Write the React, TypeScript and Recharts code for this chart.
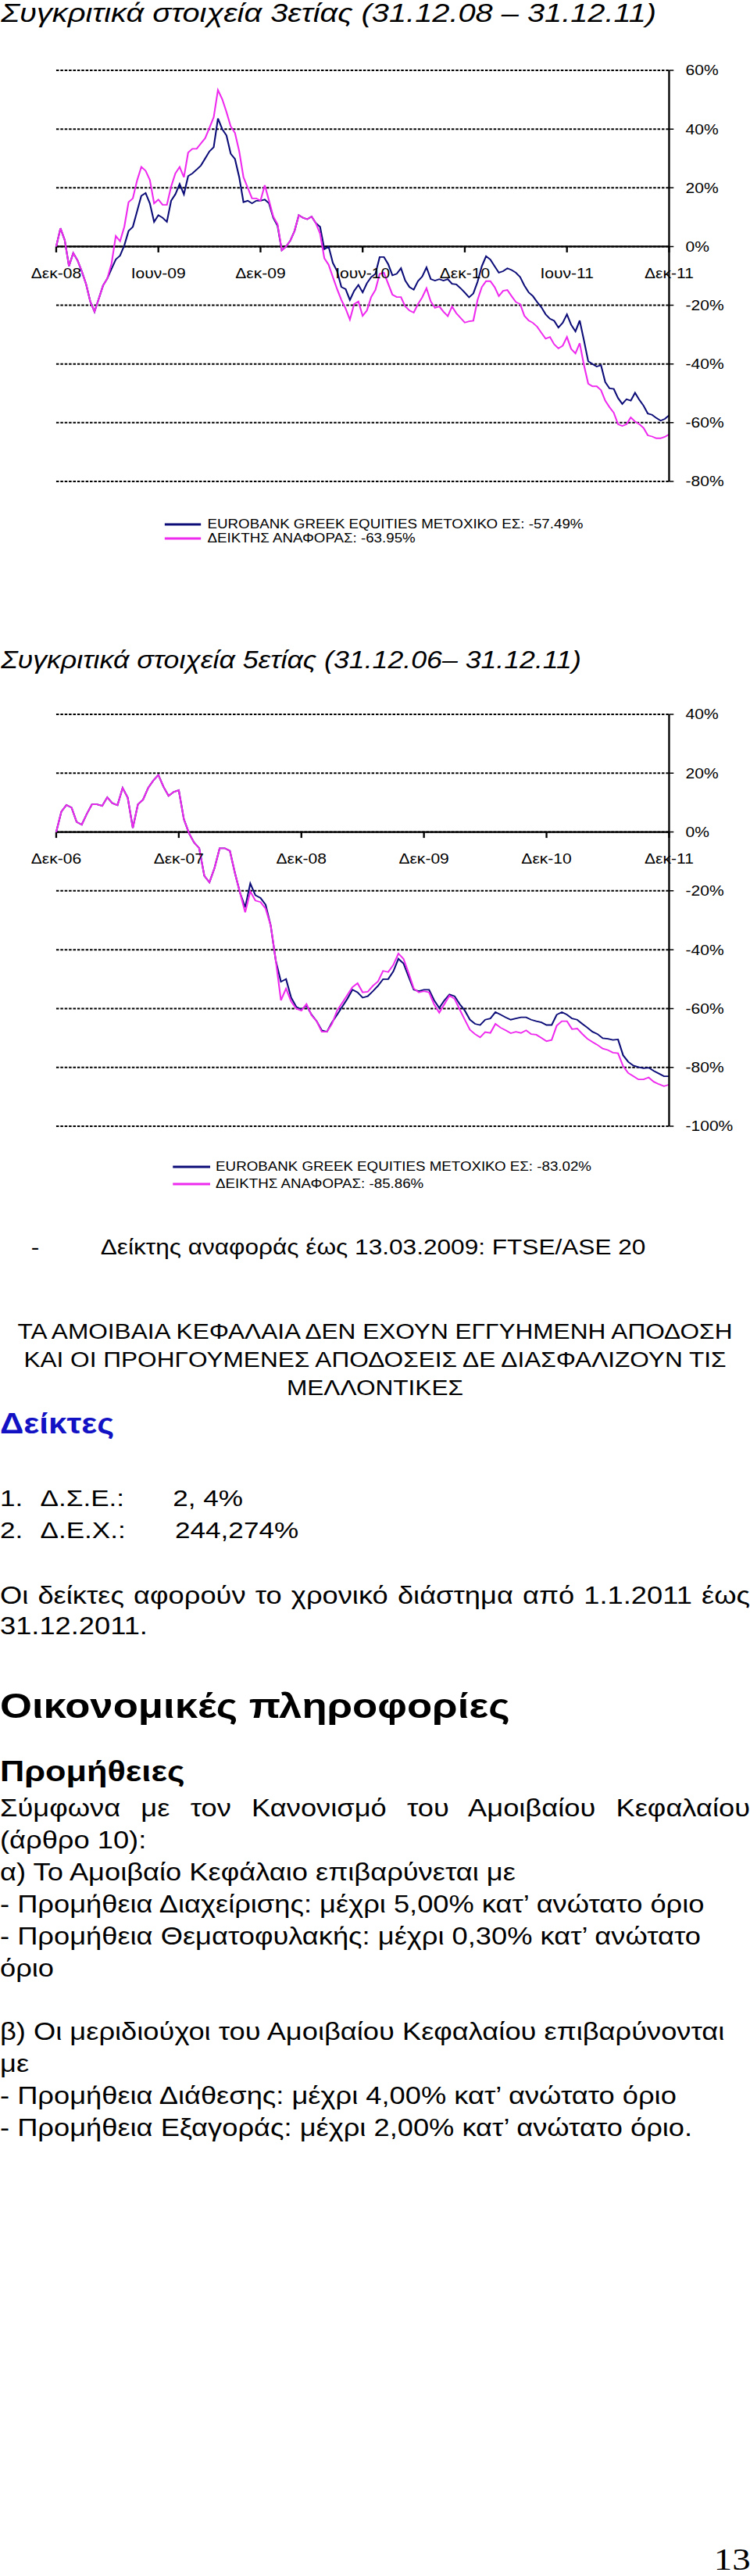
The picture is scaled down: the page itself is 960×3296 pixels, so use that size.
import React from 'react';
import { LineChart, Line, XAxis, YAxis, CartesianGrid, ReferenceLine, Legend } from 'recharts';

// ---------- data: 3-year chart (31.12.08 - 31.12.11), one value every quarter month ----------
const STEP3 = 0.25;
const idx3: number[] = [
  0, 6.2, 2.2, -6.7, -2.2, -4.7, -8.4, -12.7, -18.7, -22.2,
  -17.8, -13.3, -10.9, -5.8, 3.6, 1.8, 6.7, 15.1, 16.4, 22.5,
  27.1, 25.8, 22.7, 14.7, 16.0, 14.2, 14.2, 20.4, 24.9, 27.1,
  23.6, 32.0, 33.3, 33.3, 35.1, 36.9, 40.4, 44.0, 53.3, 50.2,
  45.8, 40.9, 38.7, 32.4, 23.6, 20.0, 16.4, 16.4, 15.6, 20.9,
  15.6, 10.2, 7.6, -1.3, 0, 2.0, 5.3, 10.7, 9.8, 9.3,
  10.2, 8.0, 4.4, -4.0, -6.2, -10.4, -14.5, -18.2, -21.1, -24.9,
  -19.6, -18.7, -23.6, -21.8, -17.2, -14.8, -9.3, -8.9, -12.7, -16.4,
  -17.2, -17.2, -20.4, -21.8, -22.5, -19.6, -17.3, -14.2, -18.7, -20.9,
  -20.4, -22.2, -23.7, -20.4, -22.7, -24.3, -25.9, -25.5, -25.3, -18.2,
  -13.8, -11.8, -11.8, -13.8, -16.9, -15.1, -14.8, -16.9, -18.9, -19.6,
  -23.6, -25.2, -26.0, -27.3, -29.4, -31.4, -30.8, -33.3, -34.7, -33.8,
  -30.8, -34.9, -36.4, -32.9, -40.4, -46.7, -47.6, -47.6, -48.9, -52.5,
  -54.7, -56.6, -60.5, -61.1, -60.5, -58.2, -59.6, -60.5, -61.8, -64.3,
  -64.7, -65.3, -65.3, -64.8, -63.95,
];
const fund3: number[] = [
  0, 6.2, 2.2, -6.7, -2.2, -4.7, -8.4, -12.7, -18.7, -22.2,
  -17.8, -13.3, -10.9, -7.6, -4.4, -3.1, 0.4, 5.3, 6.7, 12.0,
  17.3, 18.2, 14.7, 8.4, 10.7, 9.8, 8.4, 15.6, 17.8, 21.3,
  17.8, 24.0, 24.9, 26.2, 27.6, 30.0, 32.4, 33.8, 43.6, 40.0,
  37.8, 31.6, 29.8, 23.6, 15.1, 15.6, 14.7, 15.6, 15.6, 16.0,
  14.7, 9.8, 7.1, -1.3, 0, 2.0, 5.3, 10.7, 9.8, 9.3,
  10.2, 8.0, 6.7, -0.9, 0, -5.6, -8.4, -13.8, -14.5, -18.2,
  -15.1, -13.1, -15.6, -12.5, -10.4, -9.3, -3.6, -3.6, -6.0, -9.8,
  -9.3, -7.4, -11.6, -13.8, -14.7, -11.8, -10.2, -7.1, -11.1, -11.6,
  -11.1, -11.6, -11.1, -12.7, -12.9, -14.2, -15.7, -17.3, -16.0, -12.0,
  -6.7, -3.3, -4.4, -6.7, -8.9, -8.4, -7.4, -8.0, -8.9, -10.4,
  -13.3, -15.6, -16.9, -18.9, -20.7, -23.1, -24.6, -25.3, -27.6, -26.0,
  -23.1, -26.7, -28.9, -25.2, -32.0, -39.1, -40.0, -40.9, -40.4, -46.2,
  -48.3, -48.5, -51.6, -53.6, -52.0, -52.5, -49.8, -52.2, -54.2, -56.9,
  -57.3, -58.4, -59.3, -58.7, -57.49,
];
const ticks3Pos: number[] = [0, 6, 12, 18, 24, 30, 36];
const ticks3Lab: string[] = ['Δεκ-08', 'Ιουν-09', 'Δεκ-09', 'Ιουν-10', 'Δεκ-10', 'Ιουν-11', 'Δεκ-11'];
const y3Ticks: number[] = [60, 40, 20, 0, -20, -40, -60, -80];
const names3: string[] = ['EUROBANK GREEK EQUITIES ΜΕΤΟΧΙΚΟ ΕΣ: -57.49%', 'ΔΕΙΚΤΗΣ ΑΝΑΦΟΡΑΣ: -63.95%'];

// ---------- data: 5-year chart (31.12.06 - 31.12.11), one value every half month ----------
const STEP5 = 0.5;
const idx5: number[] = [
  0, 6.9, 9.2, 8.3, 3.4, 2.5, 6.2, 9.4, 9.4, 8.9,
  11.8, 9.8, 9.1, 15.0, 11.7, 1.4, 9.4, 11.0, 15.0, 17.5,
  19.4, 15.4, 12.3, 13.6, 14.2, 4.3, -0.4, -3.6, -5.5, -14.9,
  -17.1, -12.2, -5.5, -5.5, -6.4, -14.0, -20.7, -27.3, -20.2, -23.3,
  -23.8, -26.0, -31.8, -43.8, -57.2, -53.2, -57.6, -60.0, -60.7, -58.5,
  -62.3, -64.3, -67.9, -67.9, -65.2, -60.7, -58.1, -55.4, -52.7, -51.4,
  -54.5, -54.3, -52.3, -50.8, -47.2, -47.6, -45.2, -41.3, -43.1, -47.9,
  -53.2, -54.5, -54.1, -54.5, -58.6, -61.4, -58.5, -55.6, -56.7, -60.3,
  -63.8, -67.2, -68.7, -69.8, -68.0, -68.3, -65.2, -66.5, -67.4, -68.4,
  -67.9, -68.3, -67.4, -68.7, -68.9, -70.0, -71.1, -70.7, -65.8, -64.3,
  -64.3, -67.0, -66.8, -68.6, -70.3, -71.4, -72.4, -73.6, -74.1, -75.0,
  -75.2, -79.6, -81.9, -83.0, -84.1, -84.1, -83.4, -84.9, -85.7, -86.4,
  -85.86,
];
const fund5: number[] = [
  0, 6.9, 9.2, 8.3, 3.4, 2.5, 6.2, 9.4, 9.4, 8.9,
  11.8, 9.8, 9.1, 15.0, 11.7, 1.4, 9.4, 11.0, 15.0, 17.5,
  19.4, 15.4, 12.3, 13.6, 14.2, 4.3, -0.4, -3.6, -5.5, -14.9,
  -17.1, -12.2, -5.5, -5.5, -6.4, -14.0, -20.7, -25.6, -17.5, -21.5,
  -22.4, -24.7, -31.8, -43.8, -50.9, -50.0, -56.3, -59.4, -60.3, -59.0,
  -62.1, -64.3, -67.4, -67.9, -64.7, -62.1, -59.4, -56.7, -53.6, -54.5,
  -56.3, -55.8, -54.1, -52.3, -50.0, -50.0, -47.4, -43.1, -44.7, -49.2,
  -53.6, -54.1, -53.6, -53.6, -57.2, -59.8, -57.2, -55.2, -55.8, -58.5,
  -60.7, -63.8, -65.2, -65.6, -63.8, -63.4, -61.2, -62.1, -63.0, -63.8,
  -63.4, -63.0, -63.0, -63.8, -64.3, -64.7, -65.6, -65.6, -62.1, -61.2,
  -62.1, -63.4, -63.8, -65.2, -66.5, -67.9, -68.7, -70.1, -70.3, -70.7,
  -70.5, -75.9, -78.1, -79.4, -79.9, -80.3, -80.1, -81.2, -82.1, -83.0,
  -83.02,
];
const ticks5Pos: number[] = [0, 12, 24, 36, 48, 60];
const ticks5Lab: string[] = ['Δεκ-06', 'Δεκ-07', 'Δεκ-08', 'Δεκ-09', 'Δεκ-10', 'Δεκ-11'];
const y5Ticks: number[] = [40, 20, 0, -20, -40, -60, -80, -100];
const names5: string[] = ['EUROBANK GREEK EQUITIES ΜΕΤΟΧΙΚΟ ΕΣ: -83.02%', 'ΔΕΙΚΤΗΣ ΑΝΑΦΟΡΑΣ: -85.86%'];

// ---------- styling ----------
const STRETCH = 1.17;
const PAGE_W = 960 / STRETCH;
const FONT = '"Liberation Sans", Arial, Helvetica, sans-serif';
const SERIF = '"Liberation Serif", "Times New Roman", serif';
const NAVY = '#0c0c78';
const MAGENTA = '#ee2aee';
const TICK_DEPTH = -2;

type ChartProps = {
  top: number;
  height: number;
  fund: number[];
  idx: number[];
  step: number;
  tickPos: number[];
  tickLab: string[];
  yTicks: number[];
  names: string[];
  marginTop: number;
  marginBottom: number;
  legendTop: number;
  legendLeft: number;
  legendRow: number;
  sampleW: number;
  gap: number;
};

function makeLegend(rowH: number, sampleW: number, gap: number) {
  return (props: any) => {
    const payload = props.payload || [];
    return (
      <div style={{ fontFamily: FONT }}>
        {payload.map((e: any, i: number) => (
          <div key={i} style={{ display: 'flex', alignItems: 'center', height: rowH }}>
            <svg width={sampleW} height={rowH} style={{ display: 'block' }}>
              <line x1={0} x2={sampleW} y1={rowH / 2} y2={rowH / 2} stroke={e.color} strokeWidth={3} />
            </svg>
            <span style={{ marginLeft: gap, fontSize: 16, lineHeight: `${rowH}px`, whiteSpace: 'pre', color: '#000' }}>
              {e.value}
            </span>
          </div>
        ))}
      </div>
    );
  };
}

function PerfChart(p: ChartProps) {
  const data = p.idx.map((v, i) => ({ m: i * p.step, idx: v, fund: p.fund[i] }));
  const xMax = p.tickPos[p.tickPos.length - 1];
  const yDomain = [p.yTicks[p.yTicks.length - 1], p.yTicks[0]];
  return (
    <div style={{ position: 'absolute', left: 0, top: p.top, width: 820, height: p.height }}>
      <LineChart
        width={820}
        height={p.height}
        data={data}
        margin={{ top: p.marginTop, right: 0, bottom: p.marginBottom, left: 61.5 }}
      >
        <CartesianGrid horizontal vertical={false} stroke="#000" strokeWidth={2} strokeDasharray="3 1.6" />
        <XAxis dataKey="m" type="number" domain={[0, xMax]} ticks={p.tickPos} hide />
        <YAxis
          orientation="right"
          domain={yDomain}
          ticks={p.yTicks}
          interval={0}
          width={88}
          tickFormatter={(v: number) => `${v}%`}
          axisLine={{ stroke: '#000', strokeWidth: 2 }}
          tickLine={{ stroke: '#000', strokeWidth: 1.5 }}
          tickSize={5}
          tickMargin={13}
          tick={{ fill: '#000', fontSize: 18 }}
        />
        <ReferenceLine y={0} stroke="#000" strokeWidth={2.2} />
        {p.tickPos.map((m, i) => (
          <ReferenceLine
            key={`t${i}`}
            segment={[{ x: m, y: 0 }, { x: m, y: TICK_DEPTH }]}
            stroke="#000"
            strokeWidth={2}
            label={{ value: p.tickLab[i], position: 'bottom', offset: 20, fill: '#000', fontSize: 18 }}
          />
        ))}
        <Line
          type="linear"
          dataKey="fund"
          name={p.names[0]}
          stroke={NAVY}
          strokeWidth={1.8}
          dot={false}
          activeDot={false}
          isAnimationActive={false}
        />
        <Line
          type="linear"
          dataKey="idx"
          name={p.names[1]}
          stroke={MAGENTA}
          strokeWidth={1.8}
          dot={false}
          activeDot={false}
          isAnimationActive={false}
        />
        <Legend
          layout="horizontal"
          verticalAlign="middle"
          align="center"
          content={makeLegend(p.legendRow, p.sampleW, p.gap)}
          wrapperStyle={{ top: p.legendTop, left: p.legendLeft, width: 600 }}
        />
      </LineChart>
    </div>
  );
}

// A line of text placed by its baseline (line-height equal to font size)
function TL(props: { x?: number; baseline: number; size: number; style?: React.CSSProperties; children: React.ReactNode; serif?: boolean }) {
  const k = props.serif ? 0.8375 : 0.8465;
  return (
    <div
      style={{
        position: 'absolute',
        left: props.x ?? 0,
        top: props.baseline - k * props.size,
        fontSize: props.size,
        lineHeight: `${props.size}px`,
        whiteSpace: 'pre',
        ...props.style,
      }}
    >
      {props.children}
    </div>
  );
}

const justify: React.CSSProperties = { width: PAGE_W, textAlign: 'justify', textAlignLast: 'justify', whiteSpace: 'normal' };
const center: React.CSSProperties = { width: PAGE_W, textAlign: 'center' };

const BODY_FIRST = 2324.6;
const BODY_STEP = 40.84;
const bodyLines: { text: string; just?: boolean }[] = [
  { text: 'Σύμφωνα με τον Κανονισμό του Αμοιβαίου Κεφαλαίου', just: true },
  { text: '(άρθρο 10):' },
  { text: 'α) Το Αμοιβαίο Κεφάλαιο επιβαρύνεται με' },
  { text: '- Προμήθεια Διαχείρισης: μέχρι 5,00% κατ’ ανώτατο όριο' },
  { text: '- Προμήθεια Θεματοφυλακής: μέχρι 0,30% κατ’ ανώτατο' },
  { text: 'όριο' },
  { text: '' },
  { text: 'β) Οι μεριδιούχοι του Αμοιβαίου Κεφαλαίου επιβαρύνονται' },
  { text: 'με' },
  { text: '- Προμήθεια Διάθεσης: μέχρι 4,00% κατ’ ανώτατο όριο' },
  { text: '- Προμήθεια Εξαγοράς: μέχρι 2,00% κατ’ ανώτατο όριο.' },
];

export default function App() {
  return (
    <div
      style={{
        position: 'absolute',
        left: 0,
        top: 0,
        width: PAGE_W,
        height: 3290,
        transform: `scaleX(${STRETCH})`,
        transformOrigin: '0 0',
        fontFamily: FONT,
        color: '#000',
        background: '#fff',
      }}
    >
      <TL x={1} baseline={28} size={34} style={{ fontStyle: 'italic' }}>
        Συγκριτικά στοιχεία 3ετίας (31.12.08 – 31.12.11)
      </TL>
      <PerfChart
        top={70}
        height={640}
        fund={fund3}
        idx={idx3}
        step={STEP3}
        tickPos={ticks3Pos}
        tickLab={ticks3Lab}
        yTicks={y3Ticks}
        names={names3}
        marginTop={20}
        marginBottom={94}
        legendTop={592}
        legendLeft={180}
        legendRow={18}
        sampleW={40}
        gap={7}
      />

      <TL x={1} baseline={855} size={30.5} style={{ fontStyle: 'italic' }}>
        Συγκριτικά στοιχεία 5ετίας (31.12.06– 31.12.11)
      </TL>
      <PerfChart
        top={890}
        height={640}
        fund={fund5}
        idx={idx5}
        step={STEP5}
        tickPos={ticks5Pos}
        tickLab={ticks5Lab}
        yTicks={y5Ticks}
        names={names5}
        marginTop={24}
        marginBottom={89}
        legendTop={592}
        legendLeft={189}
        legendRow={22}
        sampleW={41}
        gap={6}
      />

      <TL x={34} baseline={1606} size={27}>-</TL>
      <TL x={110} baseline={1606} size={27}>Δείκτης αναφοράς έως 13.03.2009: FTSE/ASE 20</TL>

      <TL baseline={1714} size={27} style={center}>ΤΑ ΑΜΟΙΒΑΙΑ ΚΕΦΑΛΑΙΑ ΔΕΝ ΕΧΟΥΝ ΕΓΓΥΗΜΕΝΗ ΑΠΟΔΟΣΗ</TL>
      <TL baseline={1749.7} size={27} style={center}>ΚΑΙ ΟΙ ΠΡΟΗΓΟΥΜΕΝΕΣ ΑΠΟΔΟΣΕΙΣ ΔΕ ΔΙΑΣΦΑΛΙΖΟΥΝ ΤΙΣ</TL>
      <TL baseline={1785.4} size={27} style={center}>ΜΕΛΛΟΝΤΙΚΕΣ</TL>

      <TL baseline={1834} size={36} style={{ fontWeight: 'bold', color: '#1212c4' }}>Δείκτες</TL>

      <TL baseline={1927} size={30}>1.</TL>
      <TL x={44} baseline={1927} size={30}>Δ.Σ.Ε.:</TL>
      <TL x={189} baseline={1927} size={30}>2, 4%</TL>
      <TL baseline={1968.7} size={30}>2.</TL>
      <TL x={44} baseline={1968.7} size={30}>Δ.Ε.Χ.:</TL>
      <TL x={191.5} baseline={1968.7} size={30}>244,274%</TL>

      <TL baseline={2052} size={31} style={justify}>Οι δείκτες αφορούν το χρονικό διάστημα από 1.1.2011 έως</TL>
      <TL baseline={2091.7} size={31}>31.12.2011.</TL>

      <TL baseline={2197.6} size={45} style={{ fontWeight: 'bold' }}>Οικονομικές πληροφορίες</TL>
      <TL baseline={2279} size={37} style={{ fontWeight: 'bold' }}>Προμήθειες</TL>

      {bodyLines.map((l, i) =>
        l.text ? (
          <TL key={i} baseline={BODY_FIRST + i * BODY_STEP} size={31} style={l.just ? justify : undefined}>
            {l.text}
          </TL>
        ) : null
      )}

      <TL x={781} baseline={3288} size={40} serif style={{ fontFamily: SERIF }}>13</TL>
    </div>
  );
}
